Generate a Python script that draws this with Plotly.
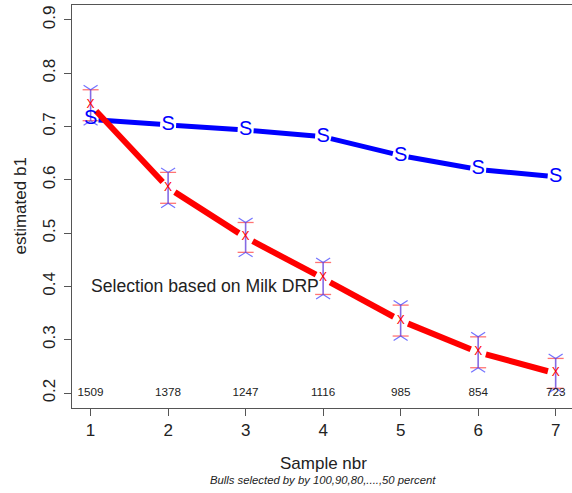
import numpy as np
import plotly.graph_objects as go

# ---------------- data ----------------
sample_nbr = [1, 2, 3, 4, 5, 6, 7]
n_bulls = [1509, 1378, 1247, 1116, 985, 854, 723]
b1_all = [0.7135, 0.703, 0.6935, 0.681, 0.6455, 0.6196, 0.6057]      # blue "S"
b1_sel = [0.740, 0.585, 0.492, 0.415, 0.336, 0.2765, 0.237]          # red "x"
b1_sel_err = [0.029, 0.029, 0.028, 0.030, 0.029, 0.029, 0.028]
y_tick_vals = [0.2, 0.3, 0.4, 0.5, 0.6, 0.7, 0.8, 0.9]
y_tick_text = ["0.2", "0.3", "0.4", "0.5", "0.6", "0.7", "0.8", "0.9"]
x_tick_text = [str(v) for v in sample_nbr]

# ---------------- geometry ----------------
W, H = 572, 493
ML, MR, MT, MB = 72, 0, 5, 85
X0 = 0.76
PX_PER_X = 77.51
XR = X0 + (W - ML - MR) / PX_PER_X
Y0, Y1 = 0.172, 0.928
PX_PER_Y = (H - MT - MB) / (Y1 - Y0)

FONT = "Liberation Sans, Arial, Helvetica, sans-serif"
BLUE = "#0000ff"
RED = "#ff0000"
AXC = "#555555"


def gapped(xs, ys, gap):
    X, Y = [], []
    for i in range(len(xs) - 1):
        dx = (xs[i + 1] - xs[i]) * PX_PER_X
        dy = (ys[i + 1] - ys[i]) * PX_PER_Y
        L = float(np.hypot(dx, dy))
        ux, uy = dx / L, dy / L
        X += [xs[i] + ux * gap / PX_PER_X, xs[i + 1] - ux * gap / PX_PER_X, None]
        Y += [ys[i] + uy * gap / PX_PER_Y, ys[i + 1] - uy * gap / PX_PER_Y, None]
    return X, Y


fig = go.Figure()

bx, by = gapped(sample_nbr, b1_all, 8)
fig.add_trace(go.Scatter(x=bx, y=by, mode="lines",
                         line=dict(color=BLUE, width=5), hoverinfo="skip"))
rx, ry = gapped(sample_nbr, b1_sel, 8)
fig.add_trace(go.Scatter(x=rx, y=ry, mode="lines",
                         line=dict(color=RED, width=6), hoverinfo="skip"))

# error bars
lo = [m - e for m, e in zip(b1_sel, b1_sel_err)]
hi = [m + e for m, e in zip(b1_sel, b1_sel_err)]
vx, vy = [], []
cx, cy = [], []
hx_, hy_ = [], []
cap = 8 / PX_PER_X
hx = 7 / PX_PER_X
hy = 4.5 / PX_PER_Y
for x, l, h in zip(sample_nbr, lo, hi):
    vx += [x, x, None]
    vy += [l, h, None]
    cx += [x - cap, x + cap, None, x - cap, x + cap, None]
    cy += [h, h, None, l, l, None]
    hx_ += [x - hx, x, x + hx, None, x - hx, x, x + hx, None]
    hy_ += [h + hy, h, h + hy, None, l - hy, l, l - hy, None]

fig.add_trace(go.Scatter(x=vx, y=vy, mode="lines",
                         line=dict(color="rgba(120,90,225,0.9)", width=1.6), hoverinfo="skip"))
fig.add_trace(go.Scatter(x=cx, y=cy, mode="lines",
                         line=dict(color="rgba(255,70,70,0.75)", width=1.3), hoverinfo="skip"))
fig.add_trace(go.Scatter(x=hx_, y=hy_, mode="lines",
                         line=dict(color="rgba(70,70,255,0.75)", width=1.2), hoverinfo="skip"))

# point symbols
fig.add_trace(go.Scatter(x=sample_nbr, y=b1_all, mode="text", text=["S"] * len(sample_nbr),
                         textposition="middle center",
                         textfont=dict(family=FONT, size=20, color=BLUE), hoverinfo="skip"))
fig.add_trace(go.Scatter(x=sample_nbr, y=b1_sel, mode="text", text=["X"] * len(sample_nbr),
                         textposition="middle center",
                         textfont=dict(family=FONT, size=12, color=RED), hoverinfo="skip"))

# sample sizes
fig.add_trace(go.Scatter(x=sample_nbr, y=[0.2] * len(sample_nbr), mode="text",
                         text=[str(n) for n in n_bulls], textposition="middle center",
                         textfont=dict(family=FONT, size=11.7, color="#222222"), hoverinfo="skip"))

fig.add_annotation(x=2.47, y=0.4, xref="x", yref="y", text="Selection based on Milk DRP",
                   showarrow=False, xanchor="center", yanchor="middle",
                   font=dict(family=FONT, size=17.6, color="#222222"))

plot_h = H - MT - MB
plot_w = W - ML - MR
fig.add_annotation(x=(323 - ML) / plot_w, y=(H - MB - 463) / plot_h, xref="paper", yref="paper",
                   text="Sample nbr", showarrow=False, xanchor="center", yanchor="middle",
                   font=dict(family=FONT, size=17, color="#222222"))
fig.add_annotation(x=(323 - ML) / plot_w, y=(H - MB - 480) / plot_h, xref="paper", yref="paper",
                   text="<i>Bulls selected by by 100,90,80,....,50 percent</i>", showarrow=False,
                   xanchor="center", yanchor="middle",
                   font=dict(family=FONT, size=11.3, color="#222222"))
fig.add_annotation(x=(20 - ML) / plot_w, y=0.5, xref="paper", yref="paper",
                   text="estimated b1", textangle=-90, showarrow=False,
                   xanchor="center", yanchor="middle",
                   font=dict(family=FONT, size=17, color="#222222"))

fig.update_layout(
    width=W, height=H,
    margin=dict(l=ML, r=MR, t=MT, b=MB, pad=0),
    paper_bgcolor="white", plot_bgcolor="white",
    showlegend=False,
    xaxis=dict(range=[X0, XR], tickvals=sample_nbr, ticktext=x_tick_text,
               showgrid=False, zeroline=False, showline=True, mirror=True,
               linecolor=AXC, linewidth=1.3, ticks="outside", ticklen=7, tickcolor=AXC,
               tickfont=dict(family=FONT, size=17, color="#222222"), ticklabelstandoff=-1,
               automargin=False),
    yaxis=dict(range=[Y0, Y1], tickvals=y_tick_vals, ticktext=y_tick_text,
               showgrid=False, zeroline=False, showline=True, mirror=False,
               linecolor=AXC, linewidth=1.3, ticks="outside", ticklen=7, tickcolor=AXC,
               tickangle=-90, ticklabelstandoff=2, automargin=False,
               tickfont=dict(family=FONT, size=17, color="#222222")),
)

fig.write_html("out.html")
